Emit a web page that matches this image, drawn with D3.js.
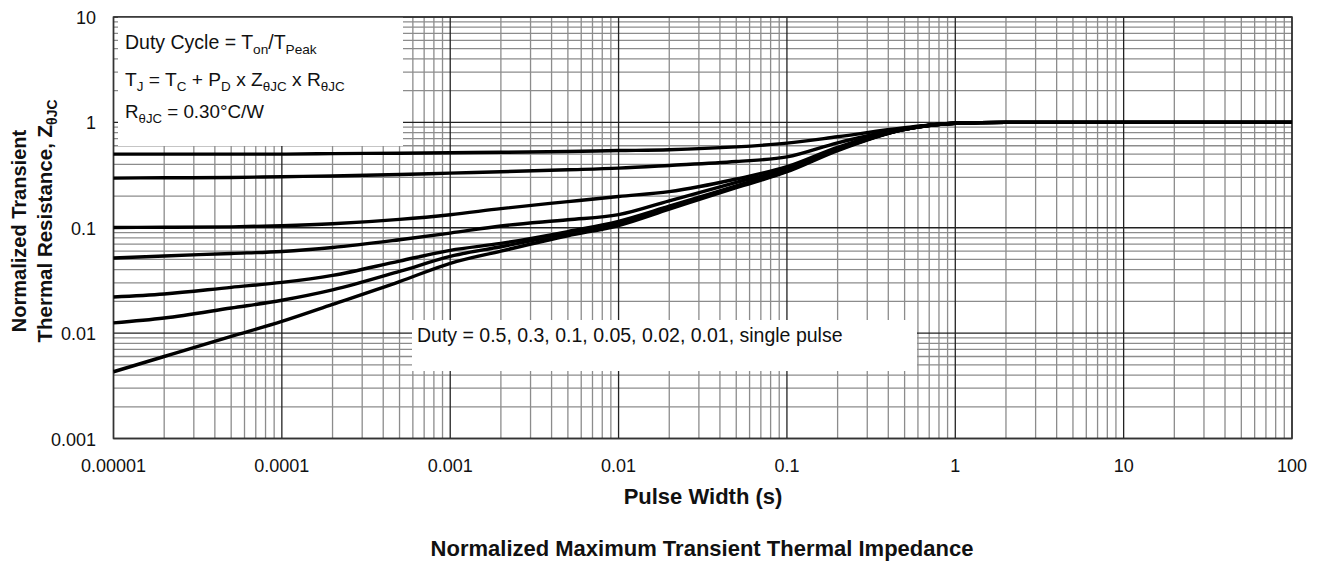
<!DOCTYPE html>
<html>
<head>
<meta charset="utf-8">
<script src="https://cdn.jsdelivr.net/npm/d3@7"></script>
<style>
  body { margin: 0; background: #fff; }
  text { font-family: "Liberation Sans", Arial, sans-serif; fill: #111; }
</style>
</head>
<body>
<script>
// pulse width (s) and normalized Z for each duty cycle
var pulse = [1e-5, 2e-5, 5e-5, 1e-4, 2e-4, 5e-4, 1e-3, 2e-3, 5e-3, 1e-2, 2e-2, 5e-2, 0.1, 0.2, 0.5, 1, 2, 5, 10, 100];
var z05 = [0.50, 0.50, 0.50, 0.50, 0.505, 0.51, 0.515, 0.52, 0.53, 0.54, 0.55, 0.585, 0.635, 0.73, 0.89, 0.98, 1.0, 1.0, 1.0, 1.0];
var z03 = [0.296, 0.298, 0.30, 0.305, 0.31, 0.32, 0.33, 0.34, 0.355, 0.368, 0.39, 0.425, 0.47, 0.64, 0.87, 0.98, 1.0, 1.0, 1.0, 1.0];
var z01 = [0.1007, 0.101, 0.102, 0.1045, 0.109, 0.12, 0.133, 0.152, 0.177, 0.198, 0.22, 0.29, 0.38, 0.58, 0.86, 0.98, 1.0, 1.0, 1.0, 1.0];
var z005 = [0.0516, 0.054, 0.057, 0.0596, 0.065, 0.077, 0.089, 0.104, 0.119, 0.133, 0.18, 0.27, 0.36, 0.56, 0.86, 0.98, 1.0, 1.0, 1.0, 1.0];
var z002 = [0.022, 0.0235, 0.0272, 0.0303, 0.0353, 0.0483, 0.061, 0.071, 0.092, 0.115, 0.16, 0.25, 0.35, 0.55, 0.86, 0.98, 1.0, 1.0, 1.0, 1.0];
var z001 = [0.0125, 0.0139, 0.0173, 0.0205, 0.0257, 0.0385, 0.0535, 0.066, 0.088, 0.11, 0.155, 0.245, 0.345, 0.55, 0.86, 0.98, 1.0, 1.0, 1.0, 1.0];
var zSingle = [0.0043, 0.0060, 0.0093, 0.0129, 0.0187, 0.0308, 0.046, 0.060, 0.084, 0.105, 0.15, 0.24, 0.34, 0.54, 0.86, 0.98, 1.0, 1.0, 1.0, 1.0];
var series = [z05, z03, z01, z005, z002, z001, zSingle];

var xTicks = [1e-5, 1e-4, 1e-3, 1e-2, 1e-1, 1, 10, 100];
var xTickLabels = ["0.00001", "0.0001", "0.001", "0.01", "0.1", "1", "10", "100"];
var yTicks = [0.001, 0.01, 0.1, 1, 10];
var yTickLabels = ["0.001", "0.01", "0.1", "1", "10"];

var width = 1321, height = 562;
var plotL = 113.5, plotR = 1292, plotT = 17, plotB = 438.5;

var svg = d3.select('body').append('svg')
    .attr('width', width)
    .attr('height', height);

var x = d3.scaleLog().domain([1e-5, 100]).range([plotL, plotR]);
var y = d3.scaleLog().domain([0.001, 10]).range([plotB, plotT]);

// grid: minor lines for 2..9 in each decade, major at decades
var xMinor = [], yMinor = [];
for (var e = -5; e < 2; e++) for (var m = 2; m < 10; m++) xMinor.push(m * Math.pow(10, e));
for (var e2 = -3; e2 < 1; e2++) for (var m2 = 2; m2 < 10; m2++) yMinor.push(m2 * Math.pow(10, e2));

var grid = svg.append('g');
grid.selectAll('.xm').data(xMinor).enter().append('line')
    .attr('x1', function (d) { return x(d); }).attr('x2', function (d) { return x(d); })
    .attr('y1', plotT).attr('y2', plotB)
    .attr('stroke', '#8c8c8c').attr('stroke-width', 1.3);
grid.selectAll('.ym').data(yMinor).enter().append('line')
    .attr('y1', function (d) { return y(d); }).attr('y2', function (d) { return y(d); })
    .attr('x1', plotL).attr('x2', plotR)
    .attr('stroke', '#8c8c8c').attr('stroke-width', 1.3);
grid.selectAll('.xM').data(xTicks).enter().append('line')
    .attr('x1', function (d) { return x(d); }).attr('x2', function (d) { return x(d); })
    .attr('y1', plotT).attr('y2', plotB)
    .attr('stroke', '#222').attr('stroke-width', 1.3);
grid.selectAll('.yM').data(yTicks).enter().append('line')
    .attr('y1', function (d) { return y(d); }).attr('y2', function (d) { return y(d); })
    .attr('x1', plotL).attr('x2', plotR)
    .attr('stroke', '#222').attr('stroke-width', 1.3);

// white boxes behind the notes
svg.append('rect').attr('x', 118).attr('y', plotT).attr('width', 285).attr('height', 129).attr('fill', '#fff');
svg.append('rect').attr('x', 412).attr('y', 320).attr('width', 505).attr('height', 51).attr('fill', '#fff');

// frame
svg.append('rect').attr('x', plotL).attr('y', plotT).attr('width', plotR - plotL).attr('height', plotB - plotT)
    .attr('fill', 'none').attr('stroke', '#333').attr('stroke-width', 1.5);

// curves
var line = d3.line()
    .x(function (d, i) { return x(pulse[i]); })
    .y(function (d) { return y(d); })
    .curve(d3.curveMonotoneX);

svg.append('g').selectAll('path').data(series).enter().append('path')
    .attr('d', line)
    .attr('fill', 'none')
    .attr('stroke', '#000')
    .attr('stroke-width', 3.4);

// tick labels
svg.append('g').selectAll('text').data(xTicks).enter().append('text')
    .attr('x', function (d) { return x(d); })
    .attr('y', 472)
    .attr('text-anchor', 'middle')
    .style('font-size', '18px')
    .text(function (d, i) { return xTickLabels[i]; });

svg.append('g').selectAll('text').data(yTicks).enter().append('text')
    .attr('x', 96)
    .attr('y', function (d) { return y(d) + 7; })
    .attr('text-anchor', 'end')
    .style('font-size', '18px')
    .text(function (d, i) { return yTickLabels[i]; });

// axis titles
svg.append('text').attr('x', 703).attr('y', 504).attr('text-anchor', 'middle')
    .style('font-size', '22px').style('font-weight', 'bold').text('Pulse Width (s)');
svg.append('text').attr('x', 702).attr('y', 556).attr('text-anchor', 'middle')
    .style('font-size', '22px').style('font-weight', 'bold').text('Normalized Maximum Transient Thermal Impedance');

var yt1 = svg.append('text').attr('transform', 'translate(26,231) rotate(-90)').attr('text-anchor', 'middle')
    .style('font-size', '20px').style('font-weight', 'bold');
yt1.text('Normalized Transient');
var yt2 = svg.append('text').attr('transform', 'translate(52,221) rotate(-90)').attr('text-anchor', 'middle')
    .style('font-size', '20.5px').style('font-weight', 'bold');
yt2.append('tspan').text('Thermal Resistance, Z');
yt2.append('tspan').attr('dy', 5).style('font-size', '14px').text('θJC');

// notes with subscripts
function note(xp, yp, size, parts) {
    var t = svg.append('text').attr('x', xp).attr('y', yp).style('font-size', size + 'px');
    var shift = 0;
    parts.forEach(function (p) {
        var sub = p[1];
        var dy = (sub ? 5 : 0) - shift;
        shift = sub ? 5 : 0;
        t.append('tspan').attr('dy', dy).style('font-size', sub ? (size * 0.7) + 'px' : size + 'px').text(p[0]);
    });
}
note(125, 49, 19.5, [['Duty Cycle = T', 0], ['on', 1], ['/T', 0], ['Peak', 1]]);
note(125, 86, 19.2, [['T', 0], ['J', 1], [' = T', 0], ['C', 1], [' + P', 0], ['D', 1], [' x Z', 0], ['θJC', 1], [' x R', 0], ['θJC', 1]]);
note(125, 118, 18.8, [['R', 0], ['θJC', 1], [' = 0.30°C/W', 0]]);
note(417, 342, 19.5, [['Duty = 0.5, 0.3, 0.1, 0.05, 0.02, 0.01, single pulse', 0]]);
</script>
</body>
</html>
